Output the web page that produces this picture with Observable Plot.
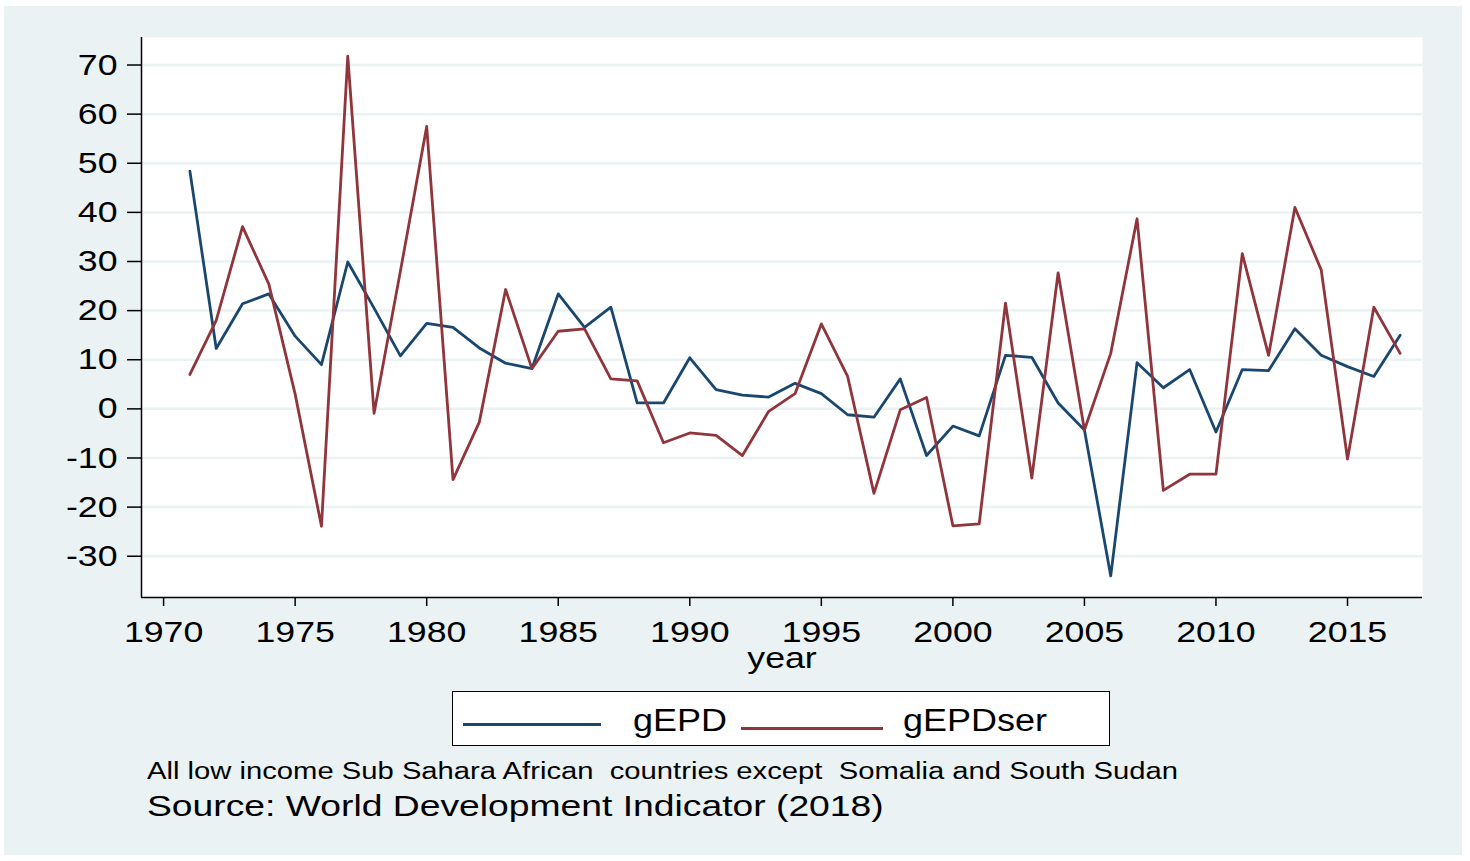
<!DOCTYPE html>
<html>
<head>
<meta charset="utf-8">
<script src="https://cdn.jsdelivr.net/npm/d3@7"></script>
<script src="https://cdn.jsdelivr.net/npm/@observablehq/plot@0.6"></script>
<style>
  html, body { margin: 0; padding: 0; background: #ffffff; }
  body { width: 1470px; height: 861px; position: relative; overflow: hidden; font-family: "Liberation Sans", Arial, sans-serif; }
  #bg { position: absolute; left: 4px; top: 6px; width: 1458px; height: 849px; background: #eaf2f3; }
  #chart { position: absolute; left: 0; top: 0; }
  #legend { position: absolute; left: 452px; top: 691px; width: 656px; height: 53px; background: #fff; border: 1.5px solid #000; }
  .sw { position: absolute; height: 3px; }
  .lt { position: absolute; font-size: 31px; color: #000; top: 13px; line-height: 1; transform: scaleX(1.16); transform-origin: 0 0; white-space: pre; }
  .cap { position: absolute; left: 147px; color: #000; white-space: pre; line-height: 1; transform-origin: 0 0; }
</style>
</head>
<body>
<div id="bg"></div>
<div id="chart"></div>
<div id="legend">
  <div class="sw" style="left:10px; top:31px; width:138px; background:#1a476f;"></div>
  <div class="lt" style="left:180px;">gEPD</div>
  <div class="sw" style="left:288px; top:35px; width:142px; background:#90353b;"></div>
  <div class="lt" style="left:450px;">gEPDser</div>
</div>
<div class="cap" style="top:760px; font-size:23px; transform: scaleX(1.27);">All low income Sub Sahara African  countries except  Somalia and South Sudan</div>
<div class="cap" style="top:792px; font-size:29px; transform: scaleX(1.285);">Source: World Development Indicator (2018)</div>
<script>
const years = [1971,1972,1973,1974,1975,1976,1977,1978,1979,1980,1981,1982,1983,1984,1985,1986,1987,1988,1989,1990,1991,1992,1993,1994,1995,1996,1997,1998,1999,2000,2001,2002,2003,2004,2005,2006,2007,2008,2009,2010,2011,2012,2013,2014,2015,2016,2017];
const gEPD = [48.4,12.3,21.4,23.4,14.8,9.0,29.9,20.5,10.8,17.4,16.6,12.4,9.3,8.2,23.4,16.6,20.7,1.2,1.2,10.4,3.9,2.8,2.4,5.2,3.1,-1.2,-1.7,6.1,-9.5,-3.5,-5.5,10.9,10.5,1.2,-4.3,-34,9.4,4.3,8.0,-4.7,8.0,7.8,16.3,10.9,8.6,6.6,15.0];
const gEPDser = [7.0,18,37.1,25.4,3,-23.9,71.8,-0.9,28,57.5,-14.4,-2.7,24.3,8.2,15.8,16.3,6.1,5.7,-6.9,-4.9,-5.4,-9.5,-0.5,3.1,17.3,6.6,-17.2,-0.2,2.3,-23.8,-23.4,21.5,-14.1,27.7,-4.3,11.3,38.7,-16.6,-13.3,-13.3,31.6,10.9,41.0,28.3,-10.2,20.7,11.3];
const xTicks = [1970,1975,1980,1985,1990,1995,2000,2005,2010,2015];
const yTicks = [-30,-20,-10,0,10,20,30,40,50,60,70];
const seriesNames = ["gEPD","gEPDser"];
const seriesColors = ["#1a476f","#90353b"];

const rows = [];
years.forEach((y, i) => {
  rows.push({year: y, value: gEPD[i], series: seriesNames[0]});
  rows.push({year: y, value: gEPDser[i], series: seriesNames[1]});
});

const chart = Plot.plot({
  width: 1470,
  height: 680,
  marginLeft: 141,
  marginRight: 48,
  marginTop: 37,
  marginBottom: 83,
  style: {background: "transparent", fontFamily: "'Liberation Sans', Arial, sans-serif", fontSize: "30px", color: "#000"},
  x: {domain: [1969.16, 2017.85]},
  y: {domain: [-38.4, 75.6]},
  color: {domain: seriesNames, range: seriesColors},
  marks: [
    Plot.frame({fill: "#fff", stroke: "none"}),
    Plot.gridY(yTicks, {stroke: "#eaf2f3", strokeOpacity: 1, strokeWidth: 2.5}),
    Plot.axisY(yTicks, {tickSize: 14, tickPadding: 10, tickFormat: d => String(d), label: null, stroke: "#000", strokeWidth: 1.5}),
    Plot.axisX(xTicks, {tickSize: 9, tickPadding: 14, tickFormat: d => String(d), label: "year", labelAnchor: "center", labelArrow: "none", labelOffset: 70, stroke: "#000", strokeWidth: 1.5}),
    Plot.ruleX([1969.16], {stroke: "#000", strokeWidth: 1.5}),
    Plot.ruleY([-38.4], {stroke: "#000", strokeWidth: 1.5}),
    Plot.line(rows, {x: "year", y: "value", z: "series", stroke: "series", strokeWidth: 2.8})
  ]
});
// Stata's exported text is horizontally widened; widen each label about its own anchor
d3.select(chart).selectAll("text").each(function() {
  const x = +(this.getAttribute("x") || 0);
  const t = this.getAttribute("transform") || "";
  this.setAttribute("transform", `${t} translate(${x},0) scale(1.19,1) translate(${-x},0)`);
});
document.getElementById("chart").appendChild(chart);
</script>
</body>
</html>
